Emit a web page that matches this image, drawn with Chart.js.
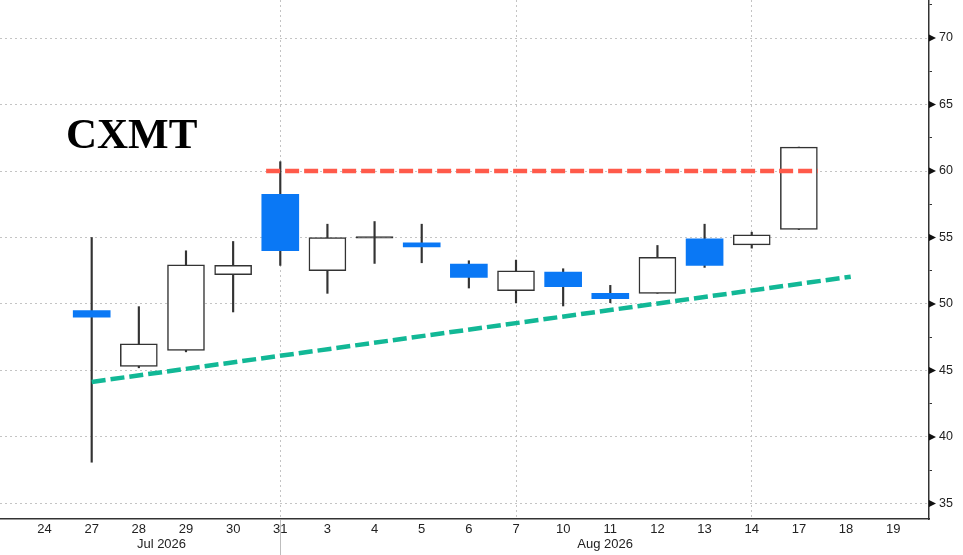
<!DOCTYPE html>
<html>
<head>
<meta charset="utf-8">
<script src="https://cdn.jsdelivr.net/npm/chart.js@4/dist/chart.umd.min.js"></script>
<style>
  html, body { margin: 0; padding: 0; background: #fff; }
  #wrap { position: relative; width: 963px; height: 555px; }
  #title {
    position: absolute; left: 66px; top: 112px;
    font: bold 43px/43px 'Liberation Serif', 'Times New Roman', serif;
    color: #000;
  }
</style>
</head>
<body>
<div id="wrap">
  <canvas id="chart"></canvas>
  <div id="title">CXMT</div>
</div>
<script>
const dayLabels = ['24','27','28','29','30','31','3','4','5','6','7','10','11','12','13','14','17','18','19'];
const monthLabels = ['Jul 2026', 'Aug 2026'];
const monthCenters = [2.48, 11.89];

const candleDays = ['27','28','29','30','31','3','4','5','6','7','10','11','12','13','14','17'];
const opens  = [49.5, 45.3, 46.5, 52.2, 58.25, 52.5, 55.0, 54.6, 53.0, 51.0, 52.4, 50.8, 50.8, 54.9, 54.45, 55.6];
const highs  = [55.0, 49.8, 54.0, 54.7, 60.7, 56.0, 56.2, 56.0, 53.25, 53.3, 52.65, 51.4, 54.4, 56.0, 55.4, 61.8];
const lows   = [38.1, 45.2, 46.4, 49.4, 52.9, 50.8, 53.05, 53.1, 51.2, 50.1, 49.85, 50.1, 50.8, 52.75, 54.2, 55.6];
const closes = [49.0, 47.0, 52.95, 52.9, 54.0, 55.0, 55.0, 54.3, 52.0, 52.5, 51.3, 50.4, 53.5, 52.9, 55.2, 61.8];

// trend lines: [x index, value]
const resistanceX = [4.70, 16.40];
const resistanceY = [60.0, 60.0];
const supportX = [1.0, 17.1];
const supportY = [44.14, 52.05];

const yTicks = [35, 37.5, 40, 42.5, 45, 47.5, 50, 52.5, 55, 57.5, 60, 62.5, 65, 67.5, 70, 72.5];

const blue = '#0a78f5';
const edge = '#333';
const xs = candleDays.map(d => dayLabels.indexOf(d));
const isUp = opens.map((o, i) => closes[i] >= o);
const isDoji = opens.map((o, i) => Math.abs(closes[i] - o) < 0.1);

const wicks = xs.map((x, i) => ({ x: x, y: [lows[i], highs[i]] }));
const bodies = xs.map((x, i) => {
  let a = Math.min(opens[i], closes[i]), b = Math.max(opens[i], closes[i]);
  if (isDoji[i]) { const m = (a + b) / 2; a = m - 0.06; b = m + 0.06; }
  return { x: x, y: [a, b] };
});

const axisFont = { family: "'Liberation Sans', Arial, sans-serif", size: 13 };

// small pointers on the major price ticks + Jul/Aug divider under the axis
const decor = {
  id: 'decor',
  afterDraw(chart) {
    const { ctx, scales: { x, y }, chartArea } = chart;
    ctx.save();
    ctx.fillStyle = '#111';
    yTicks.filter(v => v % 5 === 0).forEach(v => {
      const py = y.getPixelForValue(v);
      ctx.beginPath();
      ctx.moveTo(chartArea.right, py - 3.5);
      ctx.lineTo(chartArea.right + 7, py);
      ctx.lineTo(chartArea.right, py + 3.5);
      ctx.closePath();
      ctx.fill();
    });
    const px = Math.round(x.getPixelForValue(5)) + 0.5;
    ctx.strokeStyle = '#bdbdbd';
    ctx.lineWidth = 1;
    ctx.beginPath();
    ctx.moveTo(px, chartArea.bottom + 1);
    ctx.lineTo(px, chart.height);
    ctx.stroke();
    ctx.restore();
  }
};

new Chart(document.getElementById('chart'), {
  type: 'bar',
  data: {
    datasets: [
      {
        type: 'line',
        data: resistanceX.map((x, i) => ({ x: x, y: resistanceY[i] })),
        borderColor: '#ff5a4a',
        borderWidth: 4.5,
        borderDash: [14, 5],
        pointRadius: 0,
        order: 0
      },
      {
        type: 'line',
        data: supportX.map((x, i) => ({ x: x, y: supportY[i] })),
        borderColor: '#12b896',
        borderWidth: 4.5,
        borderDash: [14, 5],
        pointRadius: 0,
        order: 0
      },
      {
        data: bodies,
        grouped: false,
        barThickness: 37,
        backgroundColor: isUp.map((u, i) => isDoji[i] ? edge : (u ? '#fff' : blue)),
        borderColor: isUp.map(u => u ? edge : blue),
        borderWidth: isUp.map(u => u ? 1.5 : 0),
        borderSkipped: false,
        order: 1
      },
      {
        data: wicks,
        grouped: false,
        barThickness: 1.5,
        backgroundColor: edge,
        borderWidth: 0,
        order: 2
      }
    ]
  },
  options: {
    responsive: true,
    maintainAspectRatio: false,
    animation: false,
    layout: { padding: 0, autoPadding: false },
    plugins: { legend: { display: false }, tooltip: { enabled: false } },
    scales: {
      x: {
        type: 'linear',
        position: 'bottom',
        offset: false,
        min: -0.945,
        max: 18.76,
        afterBuildTicks: s => { s.ticks = dayLabels.map((_, i) => ({ value: i })); },
        afterFit: s => { s.height = 17; s.paddingLeft = 0; s.paddingRight = 0; },
        ticks: {
          autoSkip: false, maxRotation: 0, padding: 3,
          color: '#222', font: axisFont,
          callback: v => dayLabels[v]
        },
        grid: {
          offset: false,
          drawTicks: false,
          color: c => [5, 10, 15].includes(c.tick && c.tick.value) ? '#c4c4c4' : 'rgba(0,0,0,0)',
          lineWidth: 1
        },
        border: { color: edge, width: 1.5, dash: [2, 3] }
      },
      xm: {
        type: 'linear',
        position: 'bottom',
        offset: false,
        min: -0.945,
        max: 18.76,
        afterBuildTicks: s => { s.ticks = monthCenters.map(v => ({ value: v })); },
        afterFit: s => { s.height = 19; s.paddingLeft = 0; s.paddingRight = 0; },
        ticks: {
          autoSkip: false, maxRotation: 0, padding: 1,
          color: '#222', font: axisFont,
          callback: (v, i) => monthLabels[i]
        },
        grid: { display: false, drawTicks: false, offset: false },
        border: { display: false }
      },
      y: {
        position: 'right',
        min: 33.83,
        max: 72.86,
        afterBuildTicks: s => { s.ticks = yTicks.map(v => ({ value: v })); },
        afterFit: s => { s.width = 34; s.paddingTop = 0; s.paddingBottom = 0; },
        ticks: {
          padding: 7, color: '#222',
          font: { family: "'Liberation Sans', Arial, sans-serif", size: 12.5 },
          callback: v => (v % 5 === 0 ? String(v) : '')
        },
        grid: {
          drawTicks: true,
          tickLength: 3,
          tickWidth: 1,
          tickBorderDash: [],
          tickColor: c => (c.tick && c.tick.value % 5 !== 0) ? edge : 'rgba(0,0,0,0)',
          color: c => (c.tick && c.tick.value % 5 === 0) ? '#c4c4c4' : 'rgba(0,0,0,0)',
          lineWidth: 1
        },
        border: { color: edge, width: 1.5, dash: [2, 3] }
      }
    }
  },
  plugins: [decor]
});
</script>
</body>
</html>
